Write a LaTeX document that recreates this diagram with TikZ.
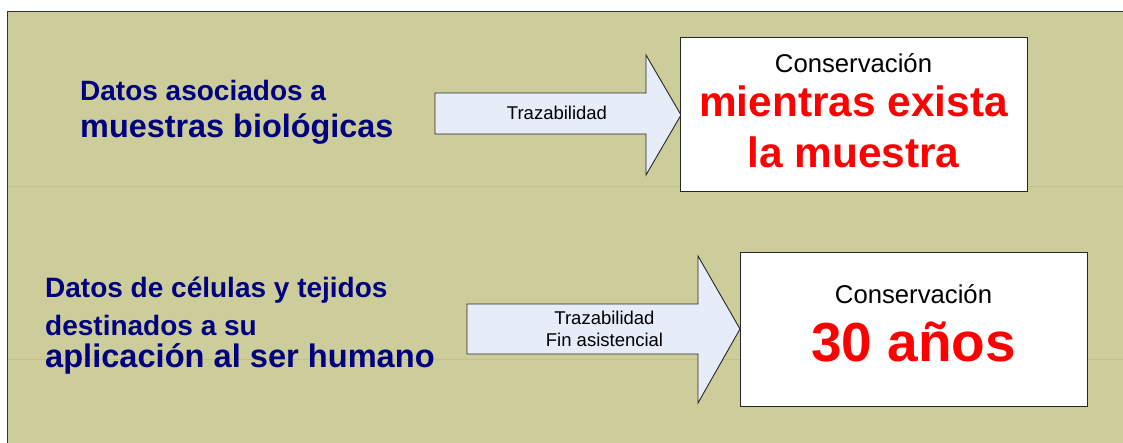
\documentclass[tikz,border=0pt]{standalone}
\usepackage{fontspec}
\setmainfont{Liberation Sans}
\usetikzlibrary{positioning}

\definecolor{fondo}{RGB}{205,205,155}
\definecolor{rayafondo}{RGB}{193,193,142}
\definecolor{azuldatos}{RGB}{0,0,128}
\definecolor{flechafill}{RGB}{230,236,248}
\definecolor{rojo}{RGB}{255,0,0}

\begin{document}
\begin{tikzpicture}[x=1pt,y=-1pt]

\tikzstyle{datos}=[anchor=base west, inner sep=0pt, text=azuldatos, font=\bfseries]
\tikzstyle{caja}=[draw=black!85, fill=white, line width=1pt, inner sep=0pt]
\tikzstyle{flecha}=[draw=black!85, fill=flechafill, line width=0.9pt, line join=miter]
\tikzstyle{rotulo}=[anchor=base, inner sep=0pt, font=\fontsize{18.5}{20}\selectfont]
\tikzstyle{cons}=[anchor=base, inner sep=0pt, font=\fontsize{25.7}{28}\selectfont]
\tikzstyle{plazo}=[anchor=base, inner sep=0pt, text=rojo, font=\bfseries]

\useasboundingbox (0,0) rectangle (1123,443);

% fondo
\fill[fondo] (7,12) rectangle (1123,443);
\draw[rayafondo, line width=0.8pt] (7,186) -- (1123,186);
\draw[rayafondo, line width=0.8pt] (7,359) -- (1123,359);
\draw[black!80, line width=1pt] (7,443) -- (7,12) -- (1123,12);


% textos de la izquierda
\node[datos, font=\bfseries\fontsize{28}{30}\selectfont] (datosA) at (80,101) {Datos asociados a};
\node[datos, font=\bfseries\fontsize{32.4}{34}\selectfont] (muestrasA) at (80,138) {muestras biológicas};

\node[datos, font=\bfseries\fontsize{28}{30}\selectfont] (datosB) at (45,298) {Datos de células y tejidos};
\node[datos, font=\bfseries\fontsize{28}{30}\selectfont] (destinoB) at (45,335) {destinados a su};
\node[datos, font=\bfseries\fontsize{32.6}{34}\selectfont] (aplicB) at (45,367) {aplicación al ser humano};


% flechas
\draw[flecha] (435,93) -- (646,93) -- (646,55) -- (681,115) -- (646,175) -- (646,134) -- (435,134) -- cycle;
\draw[flecha] (467,304) -- (698,304) -- (698,256) -- (740,329) -- (698,403) -- (698,354) -- (467,354) -- cycle;

\node[rotulo] (trazA) at (557,120) {Trazabilidad};
\node[rotulo] (trazB) at (604.5,324) {Trazabilidad};
\node[rotulo] (finB) at (604.5,346) {Fin asistencial};


% cajas de conservacion
\node[caja, minimum width=347, minimum height=154] (cajaA) at (853.5,115) {};
\node[caja, minimum width=347, minimum height=153] (cajaB) at (913.5,329.5) {};

\node[cons] (consA) at (853.5,73) {Conservación};
\node[plazo, font=\bfseries\fontsize{42.4}{44}\selectfont] (mientrasA) at (853.5,117) {mientras exista};
\node[plazo, font=\bfseries\fontsize{42.4}{44}\selectfont] (muestraA) at (853.5,168) {la muestra};

\node[cons] (consB) at (913.5,303) {Conservación};
\node[plazo, font=\bfseries\fontsize{55}{58}\selectfont] (anosB) at (913.5,361) {30 años};

\end{tikzpicture}
\end{document}
